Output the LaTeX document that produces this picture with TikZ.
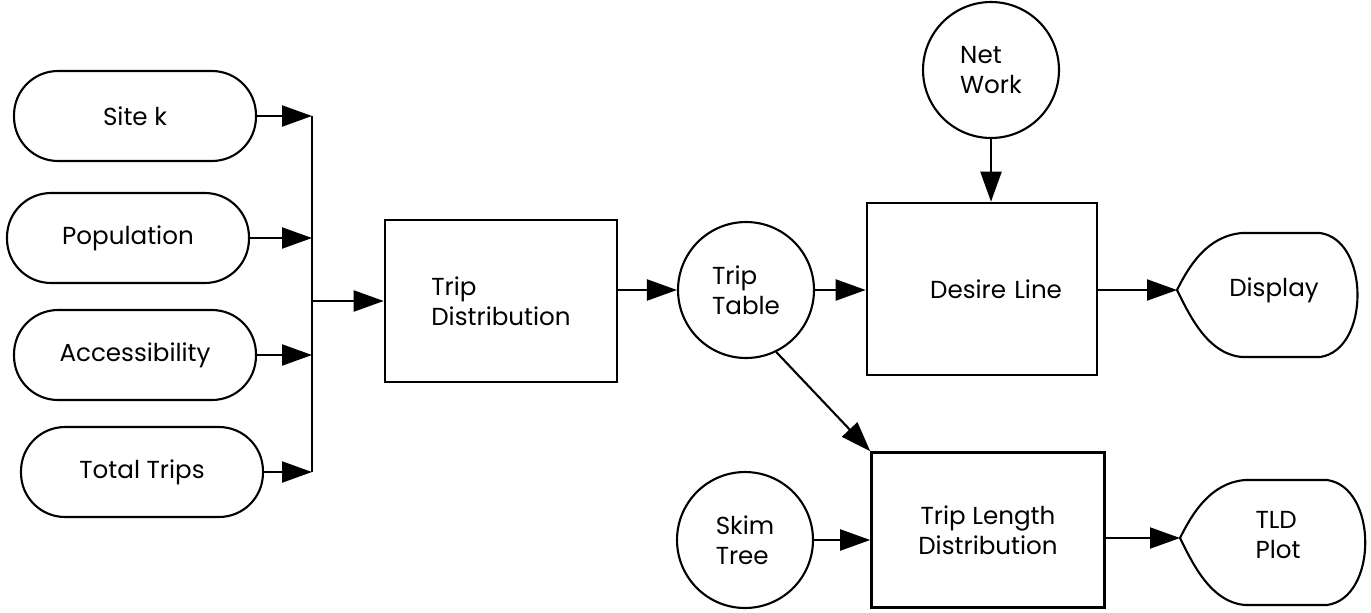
\documentclass[tikz,border=0pt]{standalone}
\usepackage{fontspec}
\setmainfont{Poppins}
\usetikzlibrary{arrows.meta}
\begin{document}
\begin{tikzpicture}[x=0.02cm,y=-0.02cm,
  every node/.style={font=\fontsize{14}{17}\selectfont},
  stad/.style={draw,line width=1.2pt,rounded corners=0.88cm,minimum width=4.84cm,minimum height=1.8cm,inner sep=0},
  blk/.style={draw,line width=1.5pt,inner sep=0,align=left},
  circ/.style={draw,circle,line width=1.2pt,minimum size=2.72cm,inner sep=0,align=left},
  shp/.style={draw,line width=1.2pt},
  line/.style={line width=1.2pt},
  arr/.style={line width=1.2pt,-{Triangle[length=0.6cm,width=0.42cm]}}
]
\useasboundingbox (0,0) rectangle (1371,612);
% inputs
\node[stad] (site) at (135,116) {Site k};
\node[stad] (pop) at (128,238) {Population};
\node[stad] (acc) at (135,355) {Accessibility};
\node[stad] (tot) at (142,472) {Total Trips};
\coordinate (bar) at (312,0);
% main boxes
\node[blk,minimum width=4.64cm,minimum height=3.24cm] (td) at (501,301) {Trip\\Distribution};
\node[circ] (tt) at (746,290) {Trip\\Table};
\node[circ] (nw) at (991,70) {Net\\Work};
\node[blk,minimum width=4.6cm,minimum height=3.44cm,text width=3.2cm,align=right] (dl) at (982,289) {Desire Line};
\node[circ] (skim) at (745,540) {Skim\\Tree};
\node[blk,align=center,minimum width=4.66cm,minimum height=3.1cm] (tld) at (988,530) {Trip Length\\Distribution};
% display shapes
\coordinate (dsp) at (1177,290);
\draw[shp] (dsp) .. controls (1189,266) and (1207,236) .. (1242,233) -- (1320,233)
  .. controls (1370,240) and (1370,350) .. (1320,357) -- (1242,357)
  .. controls (1207,354) and (1189,314) .. (dsp) -- cycle;
\node[align=left] (dsptext) at (1274,290) {Display};
\coordinate (tlp) at (1180,538);
\draw[shp] (tlp) .. controls (1192,514) and (1210,483) .. (1245,480) -- (1327,480)
  .. controls (1378,487) and (1378,598) .. (1327,605) -- (1245,605)
  .. controls (1210,602) and (1192,562) .. (tlp) -- cycle;
\node[align=left] (tlptext) at (1278,535) {TLD\\Plot};
% connectors
\draw[arr] (site.east) -- (site.east -| bar);
\draw[arr] (pop.east) -- (pop.east -| bar);
\draw[arr] (acc.east) -- (acc.east -| bar);
\draw[arr] (tot.east) -- (tot.east -| bar);
\draw[line] (site.east -| bar) -- (tot.east -| bar);
\draw[arr] (bar |- td.west) -- (td.west);
\draw[arr] (td.east |- tt.west) -- (tt.west);
\draw[arr] (tt.east) -- (tt.east -| dl.west);
\draw[arr] (nw.south) -- (nw.south |- dl.north);
\draw[arr] (dl.east |- dsp) -- (dsp);
\draw[arr] (tt.-64) -- (tld.north west);
\draw[arr] (skim.east) -- (skim.east -| tld.west);
\draw[arr] (tld.east |- tlp) -- (tlp);
\end{tikzpicture}
\end{document}
